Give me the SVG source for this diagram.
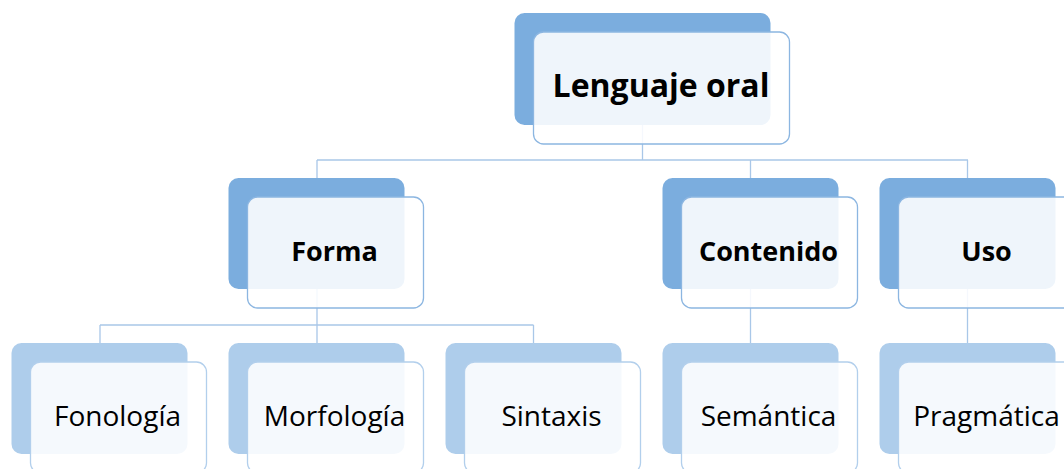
<svg xmlns="http://www.w3.org/2000/svg" width="1064" height="469" viewBox="0 0 1064 469">
<style>
.bk1{fill:#7badde}
.bk2{fill:#aecdeb}
.fr1{fill:#ffffff;fill-opacity:0.88;stroke:#8cb6e1;stroke-width:1.3}
.fr2{fill:#ffffff;fill-opacity:0.88;stroke:#b2cfec;stroke-width:1.3}
.ln{stroke:#a9c7e8;stroke-width:1.3;fill:none}
.tb{font-family:"Open Sans",sans-serif;font-weight:bold;fill:#000;text-anchor:middle}
.tr{font-family:"Open Sans",sans-serif;font-size:28px;fill:#000;text-anchor:middle}
</style>
<rect width="1064" height="469" fill="#ffffff"/>
<g id="connectors">
<path class="ln" d="M642.5 125 V160 M317 160 H968 M317 160 V178 M750.5 160 V178 M967.5 160 V178"/>
<path class="ln" d="M317 289 V325 M100 325 H533.5 M100 325 V343 M317 325 V343 M533.5 325 V343"/>
<path class="ln" d="M750.5 289 V343 M967.5 289 V343"/>
</g>
<g id="n-lenguaje">
<rect class="bk1" x="514.5" y="13" width="256" height="112" rx="10"/>
<rect class="fr1" x="533.5" y="32" width="256" height="112" rx="10"/>
<text class="tb" x="661" y="97" font-size="32">Lenguaje oral</text>
</g>
<g id="n-forma">
<rect class="bk1" x="228.5" y="178" width="176" height="111" rx="10"/>
<rect class="fr1" x="247.5" y="197" width="176" height="111" rx="10"/>
<text class="tb" x="334.5" y="261" font-size="27">Forma</text>
</g>
<g id="n-contenido">
<rect class="bk1" x="662.5" y="178" width="176" height="111" rx="10"/>
<rect class="fr1" x="681.5" y="197" width="176" height="111" rx="10"/>
<text class="tb" x="768.5" y="261" font-size="27">Contenido</text>
</g>
<g id="n-uso">
<rect class="bk1" x="879.5" y="178" width="176" height="111" rx="10"/>
<rect class="fr1" x="898.5" y="197" width="176" height="111" rx="10"/>
<text class="tb" x="986.5" y="261" font-size="27">Uso</text>
</g>
<g id="n-fonologia">
<rect class="bk2" x="11.5" y="343" width="176" height="111" rx="10"/>
<rect class="fr2" x="30.5" y="362" width="176" height="111" rx="10"/>
<text class="tr" x="117.5" y="426">Fonología</text>
</g>
<g id="n-morfologia">
<rect class="bk2" x="228.5" y="343" width="176" height="111" rx="10"/>
<rect class="fr2" x="247.5" y="362" width="176" height="111" rx="10"/>
<text class="tr" x="334.5" y="426">Morfología</text>
</g>
<g id="n-sintaxis">
<rect class="bk2" x="445.5" y="343" width="176" height="111" rx="10"/>
<rect class="fr2" x="464.5" y="362" width="176" height="111" rx="10"/>
<text class="tr" x="551.5" y="426">Sintaxis</text>
</g>
<g id="n-semantica">
<rect class="bk2" x="662.5" y="343" width="176" height="111" rx="10"/>
<rect class="fr2" x="681.5" y="362" width="176" height="111" rx="10"/>
<text class="tr" x="768.5" y="426">Semántica</text>
</g>
<g id="n-pragmatica">
<rect class="bk2" x="879.5" y="343" width="176" height="111" rx="10"/>
<rect class="fr2" x="898.5" y="362" width="176" height="111" rx="10"/>
<text class="tr" x="986.5" y="426">Pragmática</text>
</g>
</svg>
